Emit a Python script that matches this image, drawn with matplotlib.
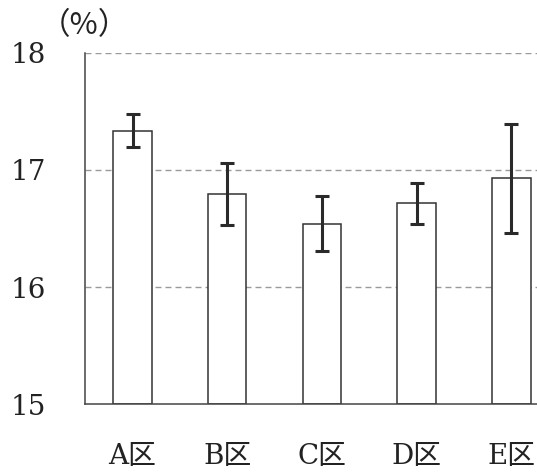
import numpy as np
import matplotlib
matplotlib.use('Agg')
import matplotlib.pyplot as plt

# data
categories = ['A区', 'B区', 'C区', 'D区', 'E区']
means = [17.335, 16.795, 16.54, 16.716, 16.929]
errors = [0.14, 0.263, 0.235, 0.174, 0.466]
y_ticks = [15, 16, 17, 18]

fam = ['DejaVu Serif', 'Noto Sans CJK JP']

fig = plt.figure(figsize=(5.37, 4.74), dpi=100)
ax = fig.add_axes([0.1574, 0.147, 0.8426, 0.742])

x = np.arange(len(categories))
ax.bar(x, [m - 15 for m in means], bottom=15, width=0.406,
       color='white', edgecolor='#333333', linewidth=1.1, zorder=2)
ax.errorbar(x, means, yerr=errors, fmt='none', ecolor='#2a2a2a',
            elinewidth=2.2, capsize=5.2, capthick=2.2, zorder=3)

ax.set_xlim(-0.507, 4.27)
ax.set_ylim(15, 18)
ax.set_yticks(y_ticks)
ax.set_yticklabels([str(t) for t in y_ticks], family=fam, fontsize=20, color='#222222')
ax.set_xticks(x)
ax.set_xticklabels(categories, family=fam, fontsize=20, color='#222222')
ax.tick_params(axis='y', length=0, pad=28)
ax.tick_params(axis='x', length=0, pad=28)

for t in [16, 17, 18]:
    ax.axhline(t, color='#9a9a9a', lw=1.0, linestyle=(0, (4.3, 2.9)), zorder=1)

for s in ['top', 'right']:
    ax.spines[s].set_visible(False)
for s in ['left', 'bottom']:
    ax.spines[s].set_color('#444444')
    ax.spines[s].set_linewidth(1.1)

fig.text(84 / 537, 1 - 26 / 474, '（%）', family=['Noto Sans CJK JP', 'DejaVu Sans'],
         fontsize=22, ha='center', va='center', color='#222222')

fig.savefig('out.png', dpi=100)
